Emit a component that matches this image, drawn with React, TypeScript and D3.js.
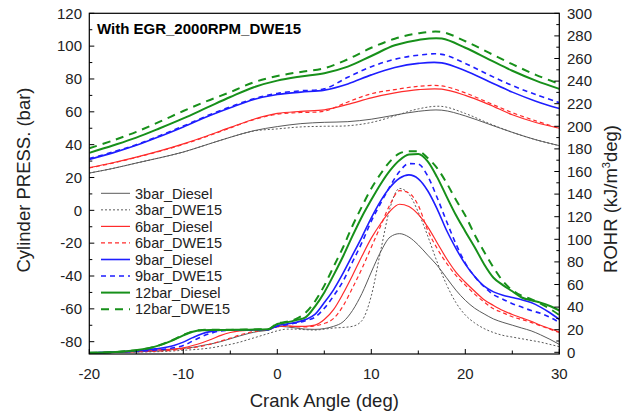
import React from 'react';
import * as d3 from 'd3';

// ---------- data ----------
const crankP = [-20, -17.5, -15, -12.5, -10, -7.5, -5, -2.5, 0, 2.5, 5, 7.5, 10, 12.5, 15, 17.5, 20, 22.5, 25, 27.5, 30];
const press3Diesel = [22.7, 25.5, 28.8, 32, 35.5, 40, 44.5, 48.5, 51, 52.8, 53.6, 54, 55.5, 58, 60.3, 61, 57.5, 52.5, 47.5, 43, 39.4];
const press3DWE15 = [22.7, 25.5, 28.8, 32, 35.5, 40, 44.5, 48.3, 49.6, 50.8, 51.2, 51.5, 53.5, 57.5, 61.8, 63.3, 59, 53, 47.5, 43, 39.4];
const press6Diesel = [26, 29, 32.4, 36.2, 40.5, 45.3, 50.5, 55.5, 59, 60.3, 61.2, 64.5, 68.5, 71.5, 73.5, 73.8, 70, 64.5, 58.2, 53.5, 50];
const press6DWE15 = [25.8, 28.8, 32.2, 36, 40.2, 45, 50.2, 55.2, 58.6, 59.6, 60.4, 66, 71, 73.5, 75.5, 75.8, 71.5, 65.5, 59.5, 54.5, 50];
const press9Diesel = [31, 35, 39.6, 45, 50.8, 57, 62.5, 67.5, 70.5, 72, 73.2, 77, 82.5, 87, 89.5, 89.8, 85, 78.5, 72, 66.5, 62];
const press9DWE15 = [31.5, 35.5, 40, 45.5, 51.3, 57.5, 63, 68, 71.2, 72.8, 74, 81, 87.5, 92, 94.5, 95, 89.5, 82.5, 76, 70.5, 65.6];
const press12Diesel = [35, 39.5, 44.3, 50, 56, 62.5, 69, 75, 79, 81.5, 83.5, 87.5, 94, 100.5, 103.8, 104.6, 99, 92, 85, 79, 74];
const press12DWE15 = [37.8, 42.5, 47.8, 54, 60.5, 66.5, 72, 78, 81.8, 84.3, 86.5, 92, 99, 104.5, 107.8, 108.6, 103, 96, 89, 82.5, 77];

const crankR = [-20, -16, -13, -11, -10, -9, -8, -7, -6, -5, -4, -3, -2, -1,
  0, 1, 2, 3, 4, 5, 6, 7, 8, 9, 10, 11, 12, 13, 14, 15, 16, 17, 18, 19, 20,
  21, 22, 23, 24, 25, 26, 27, 28, 29, 30];
const rohr3Diesel = [-0.5, 0.3, 1, 2.5, 3.5, 4.4, 6, 7.5, 9.5, 12, 14.5, 16.8, 18.5, 19.5,
  23, 22.5, 21.5, 20.5, 20.3, 21, 23, 27, 37, 52, 71, 89, 102, 105, 102, 95, 86, 77, 66, 55, 46,
  39, 34, 29.5, 26.5, 24, 21.5, 19, 15.5, 11.5, 7];
const rohr3DWE15 = [-0.5, 0.2, 0.5, 1.2, 1.8, 2.3, 3, 4, 5.5, 7, 9, 11.5, 14, 16.5,
  19, 20.5, 20.5, 20, 19.7, 20.5, 21.5, 22, 23, 28, 50, 90, 128, 145, 140, 124, 103, 80, 60, 44, 33,
  26, 21, 17.5, 15, 13.5, 12, 10.5, 9, 7, 5];
const rohr6Diesel = [-0.5, 0.5, 2, 3, 4, 6, 8.5, 11.5, 15, 17.5, 19, 19.5, 19.8, 20,
  23, 23.5, 23, 23, 24, 29, 38, 52, 68, 85, 101, 114, 125, 131, 129, 122, 111, 97, 83, 71, 62,
  54, 46.5, 41.5, 37, 33.5, 30.5, 27.5, 24, 21, 18];
const rohr6DWE15 = [-0.5, 0.3, 1, 2, 3, 4, 5.5, 7.5, 10, 12.5, 15.3, 17.5, 19, 20,
  22.5, 23, 22.5, 22.5, 23.5, 25.5, 30, 41, 57, 74, 93, 112, 131, 143, 141, 130, 108, 92, 79, 68, 59.5,
  51.5, 44.5, 38.5, 35, 31.5, 29, 26.5, 23.5, 20.5, 17.5];
const rohr9Diesel = [-0.5, 0.8, 3, 6, 9, 13, 16.5, 18.5, 19.5, 19.7, 19.8, 19.8, 20, 20,
  23.5, 25, 26.5, 29, 33.5, 44, 55.5, 70, 86, 102, 119, 134, 146, 154, 157, 153.5, 143, 127, 108, 92, 78,
  67, 58.5, 53.5, 50.5, 48.5, 46.5, 44, 40, 35, 29];
const rohr9DWE15 = [-0.5, 0.5, 2, 4, 6, 10, 14, 17, 19, 19.5, 19.7, 19.8, 20, 20,
  23, 24.5, 26, 28, 31, 39, 50, 63, 80, 97, 116, 132, 147, 160, 167, 166.5, 156, 137, 116, 96, 79,
  67, 58, 51, 47, 43, 40, 37, 34.5, 31, 26.5];
const rohr12Diesel = [-0.5, 1, 5, 11, 15, 18.2, 19.5, 19.8, 19.8, 19.8, 20, 20, 20.2, 20.3,
  25, 26.5, 28.5, 31, 40.5, 53, 68.5, 85, 103, 120, 135, 149, 161, 170, 175, 175.5, 169, 155, 138, 121.5, 107,
  93, 78, 66, 59.5, 54, 48.5, 46, 44, 41, 37];
const rohr12DWE15 = [-0.5, 1, 5, 11.5, 15.5, 18.5, 19.8, 20, 20, 20, 20, 20.2, 20.3, 20.5,
  25.5, 27, 29.5, 35, 45, 59, 76, 93, 112, 129, 145, 158, 169, 176, 178, 178, 172, 163, 150, 135, 121,
  104, 89, 75, 63, 55, 50, 47, 43, 38.5, 33];

const seriesNames = ['3bar_Diesel', '3bar_DWE15', '6bar_Diesel', '6bar_DWE15', '9bar_Diesel', '9bar_DWE15', '12bar_Diesel', '12bar_DWE15'];
const pressureSeries = [press3Diesel, press3DWE15, press6Diesel, press6DWE15, press9Diesel, press9DWE15, press12Diesel, press12DWE15];
const rohrSeries = [rohr3Diesel, rohr3DWE15, rohr6Diesel, rohr6DWE15, rohr9Diesel, rohr9DWE15, rohr12Diesel, rohr12DWE15];

const xTicks = [-20, -10, 0, 10, 20, 30];
const leftTicks = [-80, -60, -40, -20, 0, 20, 40, 60, 80, 100, 120];
const rightTicks = d3.range(0, 301, 20);

const title = 'With EGR_2000RPM_DWE15';
const xTitle = 'Crank Angle (deg)';
const leftTitle = 'Cylinder PRESS. (bar)';

// ---------- styles ----------
const styles = [
  { color: '#5a5a5a', width: 1, dash: '' },
  { color: '#5a5a5a', width: 1, dash: '2,2' },
  { color: '#ff2b2b', width: 1.2, dash: '' },
  { color: '#ff2b2b', width: 1.2, dash: '4,3' },
  { color: '#1e1eff', width: 1.6, dash: '' },
  { color: '#1e1eff', width: 1.6, dash: '5,4' },
  { color: '#17901a', width: 2, dash: '' },
  { color: '#17901a', width: 2, dash: '8,6' },
];

const W = 632, H = 416;
const X0 = 89.3, X1 = 559.3, Y0 = 13.3, Y1 = 354;
const FONT = '"Liberation Sans", Arial, sans-serif';

export default function App() {
  const x = d3.scaleLinear().domain([-20, 30]).range([X0, X1]);
  const yP = d3.scaleLinear().domain([-87.5, 120]).range([Y1, Y0]);
  const yR = d3.scaleLinear().domain([-1.5, 300]).range([Y1, Y0]);

  const lineP = d3.line<number>()
    .x((_, i) => x(crankP[i]))
    .y((d) => yP(d))
    .curve(d3.curveCatmullRom.alpha(0.5));
  const lineR = d3.line<number>()
    .x((_, i) => x(crankR[i]))
    .y((d) => yR(d))
    .curve(d3.curveMonotoneX);

  const xMinor = d3.range(-15, 30, 10);
  const leftMinor = d3.range(-70, 120, 20);
  const rightMinor = d3.range(10, 300, 20);

  const legendY0 = 193.3, legendDy = 16.55;

  return (
    <svg width={W} height={H} style={{ position: 'absolute', left: 0, top: 0, background: '#fff' }} fontFamily={FONT}>
      <rect x={0} y={0} width={W} height={H} fill="#fff" />
      <defs>
        <clipPath id="plot">
          <rect x={X0} y={Y0} width={X1 - X0} height={Y1 - Y0} />
        </clipPath>
      </defs>

      <g clipPath="url(#plot)" fill="none" strokeLinejoin="round">
        {rohrSeries.map((s, i) => (
          <path key={'r' + i} d={lineR(s) || ''} stroke={styles[i].color} strokeWidth={styles[i].width} strokeDasharray={styles[i].dash} />
        ))}
        {pressureSeries.map((s, i) => (
          <path key={'p' + i} d={lineP(s) || ''} stroke={styles[i].color} strokeWidth={styles[i].width} strokeDasharray={styles[i].dash} />
        ))}
      </g>

      {/* frame */}
      <rect x={X0} y={Y0} width={X1 - X0} height={Y1 - Y0} fill="none" stroke="#000" strokeWidth={1.2} />

      {/* x ticks */}
      {xTicks.map((t) => (
        <g key={'xt' + t}>
          <line x1={x(t)} x2={x(t)} y1={Y1} y2={Y1 - 5} stroke="#000" />
          <text x={x(t)} y={378.5} fontSize={15} textAnchor="middle" fill="#222">{t}</text>
        </g>
      ))}
      {xMinor.map((t) => (
        <line key={'xm' + t} x1={x(t)} x2={x(t)} y1={Y1} y2={Y1 - 3.5} stroke="#000" />
      ))}

      {/* left ticks */}
      {leftTicks.map((t) => (
        <g key={'lt' + t}>
          <line x1={X0} x2={X0 + 5} y1={yP(t)} y2={yP(t)} stroke="#000" />
          <text x={82} y={yP(t) + 5.3} fontSize={15} textAnchor="end" fill="#222">{t}</text>
        </g>
      ))}
      {leftMinor.map((t) => (
        <line key={'lm' + t} x1={X0} x2={X0 + 3} y1={yP(t)} y2={yP(t)} stroke="#000" />
      ))}

      {/* right ticks */}
      {rightTicks.map((t) => (
        <g key={'rt' + t}>
          <line x1={X1} x2={X1 - 5} y1={yR(t)} y2={yR(t)} stroke="#000" />
          <text x={567} y={yR(t) + 5.3} fontSize={15} textAnchor="start" fill="#222">{t}</text>
        </g>
      ))}
      {rightMinor.map((t) => (
        <line key={'rm' + t} x1={X1} x2={X1 - 3} y1={yR(t)} y2={yR(t)} stroke="#000" />
      ))}

      {/* axis titles */}
      <text x={(X0 + X1) / 2} y={407} fontSize={18.5} textAnchor="middle" fill="#222">{xTitle}</text>
      <text transform={`translate(30,180) rotate(-90)`} fontSize={18.5} textAnchor="middle" fill="#222">{leftTitle}</text>
      <text transform={`translate(617,199) rotate(-90)`} fontSize={18.5} textAnchor="middle" fill="#222">
        ROHR (kJ/m<tspan fontSize={11} dy={-7}>3</tspan><tspan dy={7}>deg)</tspan>
      </text>

      {/* title */}
      <text x={97} y={33.5} fontSize={15} fontWeight="bold" fill="#000">{title}</text>

      {/* legend */}
      {seriesNames.map((n, i) => {
        const ly = legendY0 + i * legendDy;
        return (
          <g key={'lg' + i}>
            <line x1={101} x2={130} y1={ly} y2={ly} stroke={styles[i].color} strokeWidth={styles[i].width} strokeDasharray={styles[i].dash} />
            <text x={135} y={ly + 5.2} fontSize={14.5} fill="#222">{n}</text>
          </g>
        );
      })}
    </svg>
  );
}
